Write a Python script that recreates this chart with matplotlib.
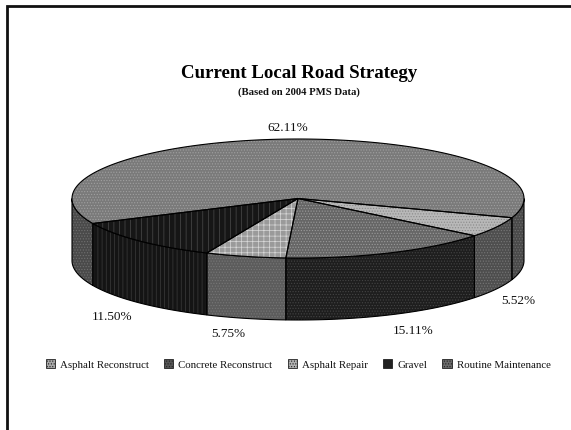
import numpy as np
import matplotlib
matplotlib.use("Agg")
import matplotlib.pyplot as plt
from matplotlib.patches import Polygon, Patch

plt.rcParams['font.family'] = ['Liberation Serif', 'DejaVu Serif']
plt.rcParams['hatch.linewidth'] = 0.5

categories = ["Asphalt Reconstruct", "Concrete Reconstruct", "Asphalt Repair", "Gravel", "Routine Maintenance"]
shares = [5.52, 15.11, 5.75, 11.50, 62.11]
share_labels = ["5.52%", "15.11%", "5.75%", "11.50%", "62.11%"]
top_colors = ["#b8b8b8", "#666666", "#9a9a9a", "#161616", "#7a7a7a"]
side_colors = ["#4e4e4e", "#1e1e1e", "#5c5c5c", "#141414", "#4a4a4a"]
side_hatch_colors = ["#777777", "#444444", "#777777", "#3c3c3c", "#707070"]
top_hatches = ["......", "......", "+++", "|||", "......"]
hatch_colors = ["#8a8a8a", "#9a9a9a", "#d8d8d8", "#4c4c4c", "#a0a0a0"]
legend_colors = ["#a8a8a8", "#555555", "#b0b0b0", "#222222", "#6a6a6a"]
label_xy = [(518, 301), (413, 331), (228, 334), (112, 317), (288, 128)]

W, H = 571, 431
CX, CY, RX, RY, DEPTH = 298, 199.5, 226, 59.5, 62
START = -18.8

fig = plt.figure(figsize=(W / 100, H / 100), dpi=100)
ax = fig.add_axes([0, 0, 1, 1])
ax.set_xlim(0, W)
ax.set_ylim(H, 0)
ax.axis("off")

# frame: only top and left edges are visible in the reference
ax.plot([W, 7, 7], [7, 7, H], color="#111111", lw=2, solid_joinstyle="miter", zorder=1)


def rim(a0, a1, dy=0.0, n=80):
    t = np.radians(np.linspace(a0, a1, n))
    return np.column_stack([CX + RX * np.cos(t), CY - RY * np.sin(t) + dy])


# angular boundaries, clockwise from the start angle
edges = START - np.cumsum([0] + shares) * 360 / sum(shares)

# sides: only the front half of the rim is visible
for i in range(len(shares)):
    for shift in (0, 360):
        a0, a1 = edges[i + 1] + shift, edges[i] + shift
        s0, s1 = max(a0, -180), min(a1, 0)
        if s1 > s0:
            upper = rim(s0, s1)
            lower = rim(s0, s1, DEPTH)[::-1]
            ax.add_patch(Polygon(np.vstack([upper, lower]), closed=True, fc=side_colors[i],
                                 ec=side_hatch_colors[i], lw=0, zorder=2,
                                 hatch="||||" if i == 3 else "......"))
            ax.add_patch(Polygon(np.vstack([upper, lower]), closed=True, fc="none",
                                 ec="black", lw=0.8, zorder=2.5))

# top faces
for i in range(len(shares)):
    pts = np.vstack([[CX, CY], rim(edges[i], edges[i + 1], n=160)])
    ax.add_patch(Polygon(pts, closed=True, fc=top_colors[i], ec=hatch_colors[i], lw=0,
                         hatch=top_hatches[i], zorder=3))
    ax.add_patch(Polygon(pts, closed=True, fc="none", ec="black", lw=0.8, zorder=4))

for lab, (x, y) in zip(share_labels, label_xy):
    ax.text(x, y, lab, ha="center", va="center", fontsize=9.5, color="#111111")

ax.text(299.5, 74, "Current Local Road Strategy", ha="center", va="center",
        fontsize=13.6, fontweight="bold", color="black")
ax.text(299, 92, "(Based on 2004 PMS Data)", ha="center", va="center",
        fontsize=7.7, fontweight="bold", color="#111111")

handles = [Patch(fc=c, ec="#222222", lw=0.6, hatch="......") for c in legend_colors]
ax.legend(handles, categories, ncol=5, loc="center", bbox_to_anchor=(298 / W, 1 - 365 / H),
          frameon=False, fontsize=7.8, handlelength=0.85, handleheight=0.85,
          handletextpad=0.45, columnspacing=1.42, borderpad=0, labelcolor="#111111")

fig.savefig("out.png", dpi=100)
